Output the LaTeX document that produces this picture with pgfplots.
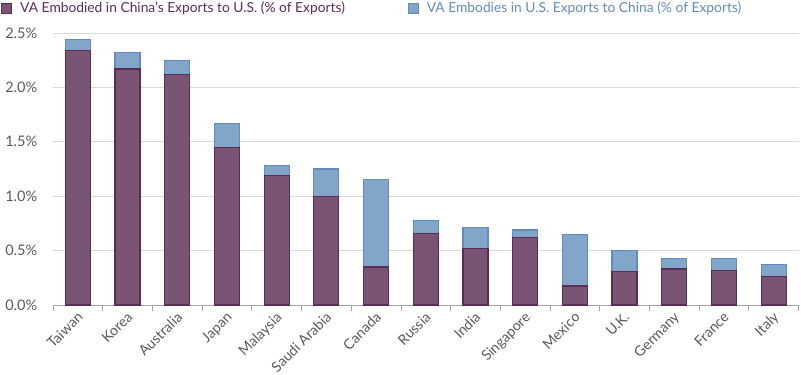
\documentclass[border=0pt]{standalone}
\usepackage{pgfplots}
\pgfplotsset{compat=1.18}
\usepackage{fontspec}
\setmainfont{Lato}
\definecolor{purp}{HTML}{7A5573}
\definecolor{purpedge}{HTML}{5B2C55}
\definecolor{blu}{HTML}{82A6C9}
\definecolor{bluedge}{HTML}{5F8CBC}
\definecolor{txt}{HTML}{595959}
\begin{document}
\begin{tikzpicture}
\useasboundingbox (-53pt,-70pt) rectangle (748pt,305pt);
\begin{axis}[
  at={(0pt,0pt)}, anchor=south west,
  scale only axis, width=745.5pt, height=272pt,
  xmin=-0.5, xmax=14.5, ymin=0, ymax=2.5,
  ybar, bar width=25pt,
  axis x line*=bottom, axis y line*=left,
  y axis line style={draw=none},
  x axis line style={color=gray!70, line width=0.8pt},
  xtick={0,...,14},
  xticklabels={Taiwan,Korea,Australia,Japan,Malaysia,Saudi Arabia,Canada,Russia,India,Singapore,Mexico,U.K.,Germany,France,Italy},
  major x tick style={draw=none},
  minor xtick={-0.5,0.5,...,14.5},
  minor x tick style={color=gray!70, line width=0.8pt},
  minor tick length=6pt, tick align=outside,
  x tick label style={rotate=45, anchor=north east, font=\fontsize{14.2}{17}\selectfont, text=txt, xshift=-1pt, yshift=1pt, inner sep=1pt},
  ytick={0,0.5,...,2.5},
  yticklabels={0.0\%,0.5\%,1.0\%,1.5\%,2.0\%,2.5\%},
  major y tick style={draw=none},
  y tick label style={font=\fontsize{14.5}{16}\selectfont, text=txt, xshift=-8pt},
  ymajorgrids, grid style={gray!30, line width=0.8pt},
  legend columns=2,
  legend style={at={(-0.0697,1.121)}, anchor=north west, draw=none, fill=none, font=\fontsize{13.8}{16}\selectfont, /tikz/every even column/.append style={column sep=61pt}, /tikz/every odd column/.append style={column sep=6pt}, inner sep=0pt, outer sep=0pt},
  legend image code/.code={\draw[#1, bar shift=0pt] (0pt,-5pt) rectangle (10pt,5pt);},
  legend cell align=left,
]
\addplot[fill=blu, draw=bluedge, line width=1.2pt, bar shift=0pt, forget plot] coordinates {
(0,2.44) (1,2.32) (2,2.25) (3,1.67) (4,1.28) (5,1.25) (6,1.155) (7,0.775) (8,0.71) (9,0.69) (10,0.645) (11,0.50) (12,0.43) (13,0.43) (14,0.375)};
\addplot[fill=purp, draw=purpedge, line width=1.2pt, bar shift=0pt] coordinates {
(0,2.34) (1,2.17) (2,2.12) (3,1.45) (4,1.19) (5,0.995) (6,0.35) (7,0.66) (8,0.52) (9,0.62) (10,0.175) (11,0.31) (12,0.33) (13,0.315) (14,0.26)};
\addlegendentry{\textcolor{purpedge}{VA Embodied in China’s Exports to U.S. (\% of Exports)}}
\addlegendimage{fill=blu, draw=bluedge, line width=1pt}
\addlegendentry{\textcolor{bluedge}{VA Embodies in U.S. Exports to China (\% of Exports)}}
\end{axis}
\end{tikzpicture}
\end{document}
